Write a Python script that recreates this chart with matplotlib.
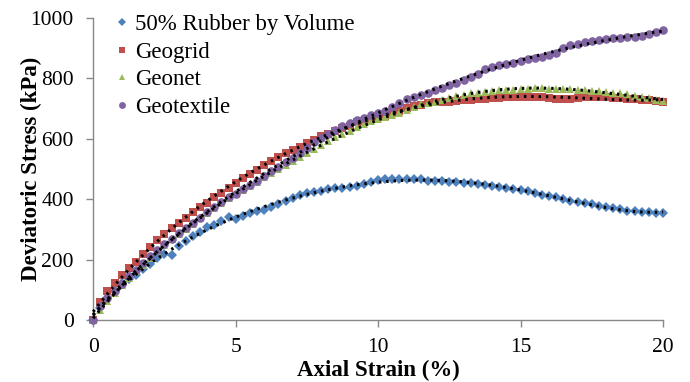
import matplotlib
matplotlib.use('Agg')
import matplotlib.pyplot as plt
import numpy as np

# axial strain (%) sampled every 0.25 %
strain = np.arange(0, 20.001, 0.25)

rubber = [0, 40, 73, 98, 122, 136, 149, 168, 186, 206, 218, 215, 245, 263, 278, 292,
          307, 315, 329, 340, 334, 345, 353, 362, 366, 376, 384, 395, 405, 414, 422, 425,
          428, 433, 436, 437, 441, 444, 450, 456, 464, 467, 467, 467, 467, 467, 466, 462,
          461, 460, 458, 457, 455, 453, 449, 447, 444, 441, 436, 433, 432, 427, 420, 414,
          411, 406, 401, 395, 392, 388, 383, 379, 375, 370, 367, 362, 361, 359, 357, 355,
          353]

geogrid = [0, 61, 97, 124, 149, 171, 193, 218, 243, 265, 285, 304, 320, 339, 357, 373,
           389, 406, 422, 438, 455, 469, 483, 497, 512, 528, 541, 552, 563, 572, 585, 596,
           609, 616, 627, 635, 643, 655, 660, 666, 671, 677, 684, 693, 701, 709, 712, 717,
           721, 721, 723, 726, 728, 730, 731, 733, 734, 735, 737, 737, 738, 738, 738, 737,
           736, 733, 732, 733, 736, 738, 738, 737, 737, 736, 735, 733, 731, 729, 727, 724,
           721]

geonet = [0, 33, 62, 90, 116, 140, 162, 184, 207, 228, 248, 267, 285, 302, 319, 337,
          355, 372, 388, 403, 417, 431, 444, 457, 472, 487, 501, 515, 528, 541, 554, 567,
          580, 593, 605, 616, 627, 638, 649, 658, 666, 673, 679, 687, 695, 705, 714, 719,
          723, 728, 734, 742, 746, 750, 753, 756, 758, 760, 761, 763, 765, 766, 767, 767,
          766, 766, 765, 764, 762, 761, 759, 757, 755, 752, 750, 747, 742, 738, 734, 730,
          726]

geotextile = [0, 47, 72, 97, 121, 145, 166, 188, 212, 232, 252, 270, 287, 304, 320, 339,
              359, 375, 392, 406, 419, 434, 447, 460, 477, 493, 508, 522, 536, 552, 570, 588,
              603, 617, 629, 642, 652, 662, 668, 679, 684, 693, 706, 717, 731, 737, 745, 753,
              760, 767, 778, 786, 795, 803, 814, 830, 837, 844, 848, 852, 858, 864, 869, 872,
              877, 885, 900, 909, 914, 919, 925, 928, 930, 933, 935, 936, 938, 941, 946, 952,
              960]

series = [
    ('50% Rubber by Volume', rubber, '#4F81BD', 'D', 4.8),
    ('Geogrid', geogrid, '#C0504D', 's', 6.0),
    ('Geonet', geonet, '#9BBB59', '^', 6.0),
    ('Geotextile', geotextile, '#8064A2', 'o', 6.2),
]

plt.rcParams['font.family'] = ['Liberation Serif', 'DejaVu Serif']

fig = plt.figure(figsize=(6.9, 3.82), dpi=100)
ax = fig.add_axes([0.135, 0.162, 0.826, 0.791])

for name, vals, col, mk, ms in series:
    ax.plot(strain, vals, ls='none', marker=mk, ms=ms, color=col,
            markeredgewidth=0, label=name, clip_on=False, zorder=3)

# polynomial trendlines (dotted black)
xf = np.linspace(0, 20, 300)
for name, vals, col, mk, ms in series:
    p = np.polyfit(strain, vals, 5)
    ax.plot(xf, np.polyval(p, xf), color='black', lw=2.2,
            ls=(0, (0.8, 1.6)), zorder=4, clip_on=False)

ax.set_xlim(0, 20)
ax.set_ylim(0, 1000)
ax.set_xticks([0, 5, 10, 15, 20])
ax.set_yticks([0, 200, 400, 600, 800, 1000])

for s in ['top', 'right']:
    ax.spines[s].set_visible(False)
for s in ['left', 'bottom']:
    ax.spines[s].set_color('#888888')
    ax.spines[s].set_linewidth(1.0)
ax.tick_params(axis='both', colors='#888888', length=5, width=1.0,
               labelcolor='black', labelsize=15.5)
ax.tick_params(axis='x', pad=8)
ax.tick_params(axis='y', pad=9)

ax.set_xlabel('Axial Strain (%)', fontsize=16.5, fontweight='bold', labelpad=2)
ax.set_ylabel('Deviatoric Stress (kPa)', fontsize=16.5, fontweight='bold', labelpad=-8)

ax.legend(loc='upper left', bbox_to_anchor=(0.015, 1.042), frameon=False,
          fontsize=16.5, handletextpad=0.05, handlelength=1.0, labelspacing=0.28,
          borderaxespad=0, markerscale=0.8)

fig.savefig('out.png', dpi=100)
